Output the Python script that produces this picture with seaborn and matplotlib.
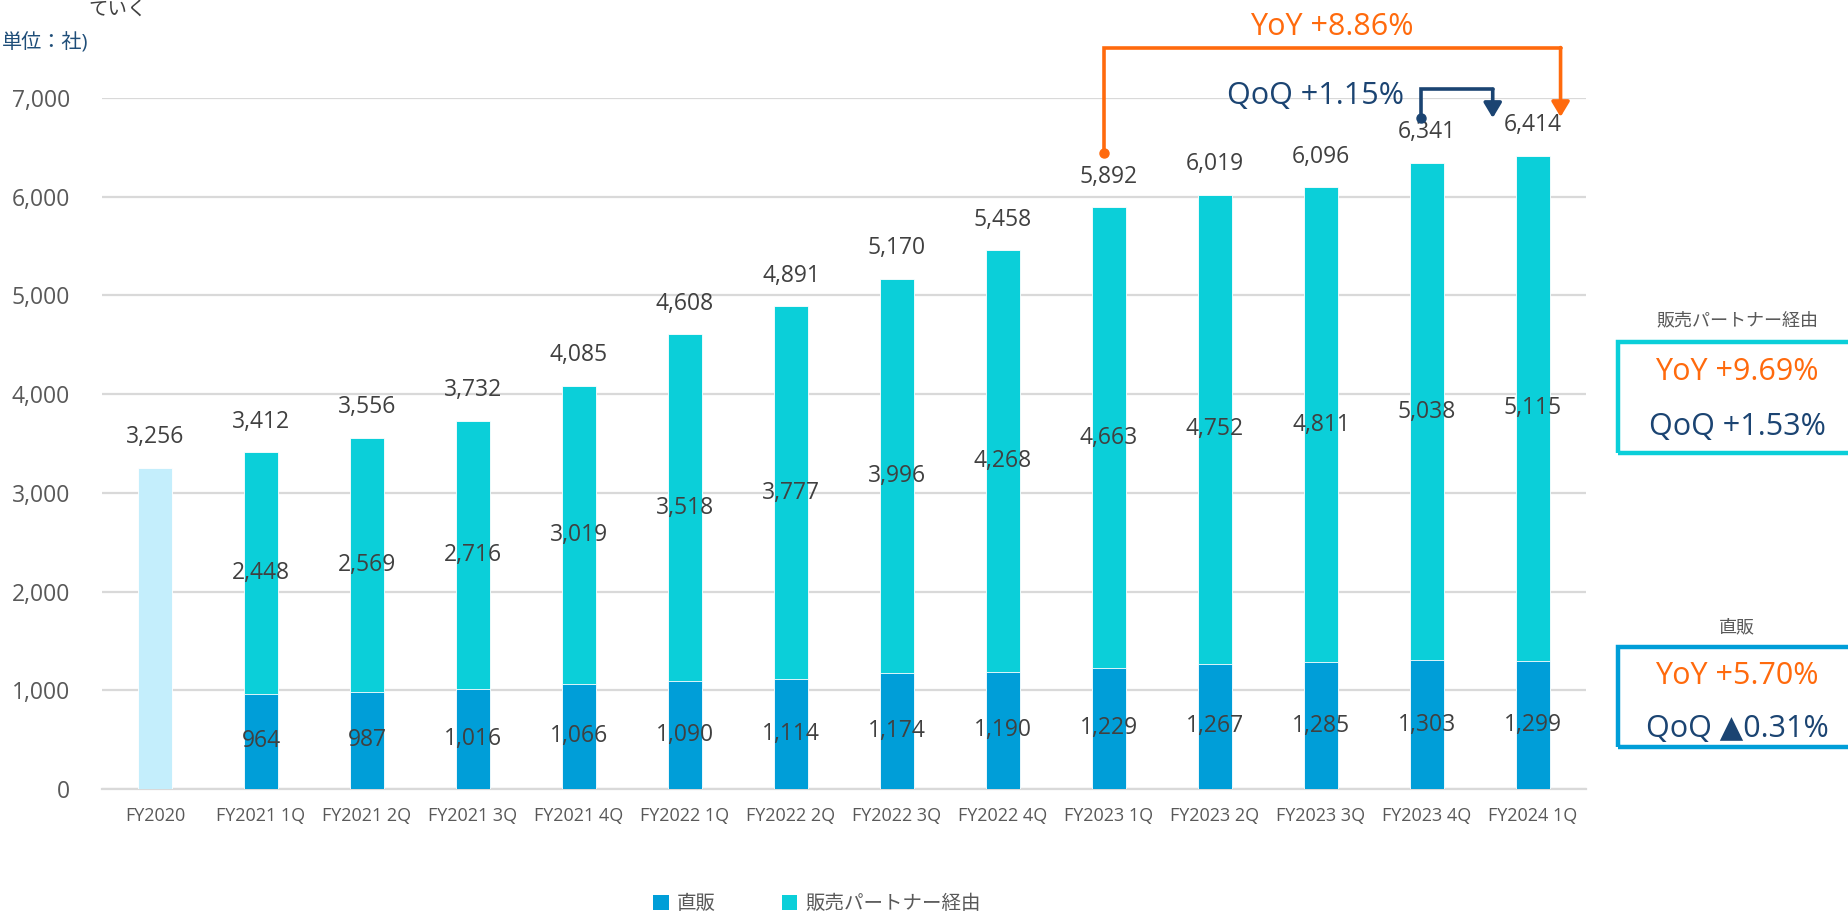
import matplotlib
matplotlib.use("Agg")
import matplotlib.pyplot as plt
import seaborn as sns
import numpy as np
import pandas as pd
from matplotlib.patches import Rectangle, Patch

# ---------------- data ----------------
categories = ['FY2020', 'FY2021 1Q', 'FY2021 2Q', 'FY2021 3Q', 'FY2021 4Q',
              'FY2022 1Q', 'FY2022 2Q', 'FY2022 3Q', 'FY2022 4Q',
              'FY2023 1Q', 'FY2023 2Q', 'FY2023 3Q', 'FY2023 4Q', 'FY2024 1Q']
direct = [np.nan, 964, 987, 1016, 1066, 1090, 1114, 1174, 1190,
          1229, 1267, 1285, 1303, 1299]
partner = [np.nan, 2448, 2569, 2716, 3019, 3518, 3777, 3996, 4268,
           4663, 4752, 4811, 5038, 5115]
totals = [3256, 3412, 3556, 3732, 4085, 4608, 4891, 5170, 5458,
          5892, 6019, 6096, 6341, 6414]
yticks = [0, 1000, 2000, 3000, 4000, 5000, 6000, 7000]
legend_labels = ['直販', '販売パートナー経由']
yoy_text = 'YoY +8.86%'
qoq_text = 'QoQ +1.15%'
partner_box = ['販売パートナー経由', 'YoY +9.69%', 'QoQ +1.53%']
direct_box = ['直販', 'YoY +5.70%', 'QoQ ▲0.31%']
unit_text = '単位：社)'
top_fragment = 'ていく'

# ---------------- style ----------------
sns.set_theme(style='white')
FAM = ['Open Sans', 'Noto Sans CJK JP', 'DejaVu Sans']
plt.rcParams['font.family'] = FAM

C_DIRECT = '#009ED8'
C_PARTNER = '#0BCFD9'
C_2020 = '#C4EEFC'
C_ORANGE = '#FF6A0D'
C_NAVY = '#1B4472'
C_GRID = '#D9D9D9'
C_TICK = '#595959'
C_LABEL = '#404040'

W, H = 1848, 916
fig = plt.figure(figsize=(W / 100, H / 100), dpi=100)
ax = fig.add_axes([102 / W, 1 - 789 / H, 1484 / W, (789 - 98) / H])

df = pd.DataFrame({'cat': categories, 'direct': direct,
                   'partner': partner, 'total': totals})
tot_colors = [C_2020] + [C_PARTNER] * (len(categories) - 1)

sns.barplot(data=df, x='cat', y='total', hue='cat', order=categories,
            palette=tot_colors, legend=False, width=0.32, saturation=1,
            errorbar=None, ax=ax, edgecolor='white', linewidth=0.6, zorder=3)
sns.barplot(data=df, x='cat', y='direct', order=categories, color=C_DIRECT,
            width=0.32, saturation=1, errorbar=None, ax=ax,
            edgecolor='white', linewidth=0.6, zorder=3)

ax.set_xlim(-0.5, len(categories) - 0.5)
ax.set_ylim(0, 7000)
ax.set_yticks(yticks)
ax.set_yticklabels([f'{v:,}' for v in yticks])
ax.set_xlabel('')
ax.set_ylabel('')
ax.yaxis.grid(True, color=C_GRID, linewidth=1.6, zorder=0)
ax.xaxis.grid(False)
for s in ['top', 'right', 'left']:
    ax.spines[s].set_visible(False)
ax.spines['bottom'].set_color(C_GRID)
ax.spines['bottom'].set_linewidth(1.6)
ax.tick_params(axis='y', length=0, pad=23, labelsize=16.5, labelcolor=C_TICK)
ax.tick_params(axis='x', length=0, pad=13, labelsize=13, labelcolor=C_TICK)

# ---------------- bar labels ----------------
for i, cat in enumerate(categories):
    t = totals[i]
    ax.annotate(f'{t:,}', xy=(i, t), xytext=(0, 22), textcoords='offset points',
                ha='center', va='center', fontsize=16.5, color=C_LABEL, zorder=5)
    if not np.isnan(direct[i]):
        d = direct[i]
        p = partner[i]
        ax.text(i, d / 2, f'{int(d):,}', ha='center', va='center',
                fontsize=16.5, color=C_LABEL, zorder=5)
        ax.text(i, d + p / 2, f'{int(p):,}', ha='center', va='center',
                fontsize=16.5, color=C_LABEL, zorder=5)

# ---------------- brackets ----------------
def bracket(x0, y0, ytop, x1, ytip, color):
    ax.plot([x0, x0, x1], [y0, ytop, ytop], color=color, lw=2.6,
            clip_on=False, zorder=6, solid_joinstyle='miter')
    ax.plot([x0], [y0], marker='o', ms=6.5, color=color, clip_on=False, zorder=6)
    ax.annotate('', xy=(x1, ytip), xytext=(x1, ytop),
                arrowprops=dict(arrowstyle='-|>,head_length=0.75,head_width=0.45',
                                color=color, lw=2.6, shrinkA=0, shrinkB=0),
                annotation_clip=False, zorder=6)

bracket(9 - 0.05, 6444, 7511, 13 + 0.26, 6808, C_ORANGE)
ax.text((9 - 0.05 + 13 + 0.26) / 2, 7720, yoy_text, ha='center', va='center',
        fontsize=22, color=C_ORANGE, clip_on=False)

bracket(12 - 0.06, 6798, 7087, 12.62, 6798, C_NAVY)
ax.text(11.78, 7021, qoq_text, ha='right', va='center', fontsize=22,
        color=C_NAVY, clip_on=False)

# ---------------- right-hand boxes ----------------
def fx(px):
    return px / W

def fy(py):
    return 1 - py / H

def side_box(lines, top, bottom, title_y, y1, y2, edge):
    fig.patches.append(Rectangle((fx(1618), fy(bottom)), fx(1860) - fx(1618),
                                 fy(top) - fy(bottom), transform=fig.transFigure,
                                 fill=False, edgecolor=edge, linewidth=3.2))
    fig.text(fx(1737), fy(title_y), lines[0], ha='center', va='center',
             fontsize=13, color=C_TICK)
    fig.text(fx(1737), fy(y1), lines[1], ha='center', va='center',
             fontsize=22, color=C_ORANGE)
    fig.text(fx(1737), fy(y2), lines[2], ha='center', va='center',
             fontsize=22, color=C_NAVY,
             family=['Open Sans', 'DejaVu Sans', 'Noto Sans CJK JP'])

side_box(partner_box, 342, 453, 320, 372, 427, C_PARTNER)
side_box(direct_box, 647, 747, 627, 676, 729, C_DIRECT)

# ---------------- header texts ----------------
fig.text(fx(2), fy(43), unit_text, ha='left', va='center',
         fontsize=14.5, color='#1F4E79')
fig.text(fx(88), fy(1), top_fragment, ha='left', va='top',
         fontsize=14, color=C_LABEL)

# ---------------- legend ----------------
handles = [Patch(facecolor=C_DIRECT, edgecolor='none'),
           Patch(facecolor=C_PARTNER, edgecolor='none')]
fig.legend(handles, legend_labels, loc='center', ncol=2,
           bbox_to_anchor=(fx(817), fy(904)), frameon=False, fontsize=14,
           handlelength=0.8, handleheight=0.8, handletextpad=0.4,
           columnspacing=3.4, labelcolor=C_TICK)

fig.savefig('out.png', dpi=100)
